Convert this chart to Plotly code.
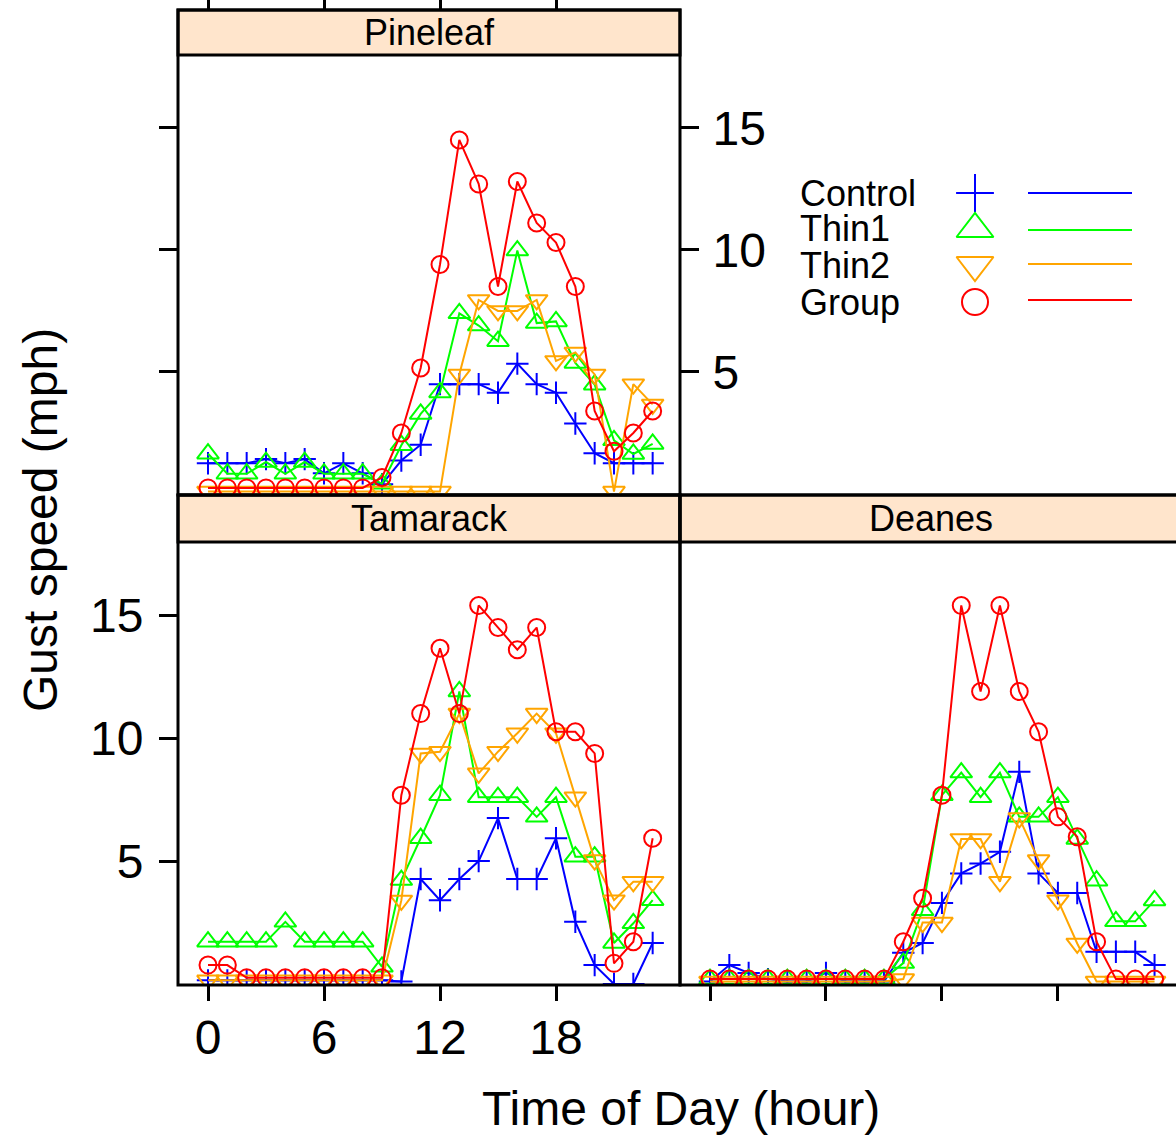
import plotly.graph_objects as go

# ---------------- data ----------------
hours = list(range(24))
series = ["Control", "Thin1", "Thin2", "Group"]
sites = ["Pineleaf", "Tamarack", "Deanes"]

pineleaf_control = [1.26, 1.26, 1.26, 1.43, 1.26, 1.43, 0.85, 1.26, 0.85, 0.40, 1.37, 2.02, 4.5, 4.5, 4.5, 4.15, 5.34, 4.5, 4.15, 2.89, 1.67, 1.26, 1.26, 1.26]
pineleaf_thin1 = [1.65, 0.83, 0.83, 1.31, 0.83, 1.31, 0.83, 0.83, 0.83, 0.42, 2.0, 3.28, 4.16, 7.4, 6.9, 6.26, 9.97, 7.0, 7.07, 5.37, 4.48, 2.2, 1.64, 2.05]
pineleaf_thin2 = [0.1, 0.1, 0.1, 0.1, 0.1, 0.1, 0.1, 0.1, 0.1, 0.1, 0.1, 0.1, 0.1, 4.9, 7.95, 7.5, 7.5, 7.95, 5.45, 5.8, 4.9, 0.1, 4.5, 3.67]
pineleaf_group = [0.25, 0.25, 0.25, 0.25, 0.25, 0.25, 0.25, 0.25, 0.25, 0.68, 2.5, 5.16, 9.4, 14.5, 12.7, 8.5, 12.8, 11.1, 10.3, 8.5, 3.4, 1.75, 2.5, 3.4]

tamarack_control = [0.15, 0.15, 0.15, 0.15, 0.15, 0.15, 0.15, 0.15, 0.15, 0.15, 0.1, 4.27, 3.41, 4.27, 5.0, 6.75, 4.27, 4.27, 5.93, 2.53, 0.77, 0.0, 0.0, 1.67]
tamarack_thin1 = [1.72, 1.72, 1.72, 1.72, 2.53, 1.72, 1.72, 1.72, 1.72, 0.7, 4.23, 5.93, 7.68, 11.9, 7.6, 7.6, 7.6, 6.8, 7.6, 5.18, 5.18, 1.67, 2.47, 3.41]
tamarack_thin2 = [0.15, 0.15, 0.15, 0.15, 0.15, 0.15, 0.15, 0.15, 0.15, 0.15, 3.4, 9.38, 9.45, 11.0, 8.57, 9.45, 10.2, 11.0, 10.2, 7.6, 5.04, 3.41, 4.16, 4.16]
tamarack_group = [0.77, 0.77, 0.25, 0.25, 0.25, 0.25, 0.25, 0.25, 0.25, 0.25, 7.68, 11.0, 13.66, 11.0, 15.4, 14.5, 13.6, 14.5, 10.26, 10.26, 9.38, 0.84, 1.72, 5.93]

deanes_control = [0.1, 0.77, 0.45, 0.2, 0.1, 0.1, 0.45, 0.1, 0.1, 0.1, 1.27, 1.67, 3.3, 4.5, 4.9, 5.38, 8.63, 4.5, 3.7, 3.7, 1.31, 1.31, 1.31, 0.77]
deanes_thin1 = [0.2, 0.2, 0.2, 0.2, 0.2, 0.2, 0.2, 0.2, 0.2, 0.2, 0.85, 3.0, 7.68, 8.6, 7.6, 8.6, 6.8, 6.8, 7.6, 5.9, 4.2, 2.55, 2.55, 3.4]
deanes_thin2 = [0.1, 0.1, 0.1, 0.1, 0.1, 0.1, 0.1, 0.1, 0.1, 0.1, 0.2, 2.5, 2.5, 5.9, 5.9, 4.16, 6.75, 5.04, 3.41, 1.65, 0.1, 0.1, 0.1, 0.1]
deanes_group = [0.2, 0.2, 0.2, 0.2, 0.2, 0.2, 0.2, 0.2, 0.2, 0.2, 1.72, 3.49, 7.68, 15.4, 11.9, 15.4, 11.9, 10.26, 6.8, 5.99, 1.72, 0.2, 0.2, 0.2]

x_tickvals = [0, 6, 12, 18]
y_tickvals = [5, 10, 15]

site_data = {
    "Pineleaf": [pineleaf_control, pineleaf_thin1, pineleaf_thin2, pineleaf_group],
    "Tamarack": [tamarack_control, tamarack_thin1, tamarack_thin2, tamarack_group],
    "Deanes": [deanes_control, deanes_thin1, deanes_thin2, deanes_group],
}

# ---------------- style ----------------
W, H = 1176, 1136
FONT = "Liberation Sans, Arial, sans-serif"
colors = ["#0000FF", "#00FF00", "#FFA500", "#FF0000"]
symbols = ["cross-thin-open", "triangle-up-open", "triangle-down-open", "circle-open"]
msizes = [16, 19, 19, 17]
lsizes = [27, 32, 32, 26]
STRIP = "#FFE5CC"


def fx(p):
    return p / W


def fy(p):
    return 1 - p / H


XR_LEFT = [-1.552, 24.414]
XR_RIGHT = [-1.552, 24.11]
YR = [-0.04, 17.98]

# pixel boxes: (x0, x1, strip_top, plot_top, plot_bottom)
boxes = {
    "Pineleaf": (178, 680, 10, 55, 495),
    "Tamarack": (178, 680, 495, 542, 985),
    "Deanes": (680, 1182, 495, 542, 985),
}
axis_of = {"Tamarack": ("x", "y"), "Deanes": ("x2", "y2"), "Pineleaf": ("x3", "y3")}

fig = go.Figure()

for site in sites:
    xa, ya = axis_of[site]
    for i, name in enumerate(series):
        fig.add_trace(go.Scatter(
            x=hours, y=site_data[site][i], xaxis=xa, yaxis=ya,
            mode="lines+markers", name=name, showlegend=False,
            line=dict(color=colors[i], width=2),
            marker=dict(symbol=symbols[i], size=msizes[i], color=colors[i],
                        line=dict(color=colors[i], width=2)),
        ))

# dummy trace for the right-hand Pineleaf axis
fig.add_trace(go.Scatter(x=[0], y=[-10], xaxis="x3", yaxis="y4", mode="markers",
                         marker=dict(opacity=0), showlegend=False, hoverinfo="skip"))

# legend keys on a pixel-space overlay axis
leg_rows_y = [193, 229, 265, 302]
leg_line_y = [193, 230, 264, 300]
for i, name in enumerate(series):
    fig.add_trace(go.Scatter(x=[975], y=[leg_rows_y[i]], xaxis="x5", yaxis="y5", mode="markers",
                             marker=dict(symbol=symbols[i], size=lsizes[i], color=colors[i],
                                         line=dict(color=colors[i], width=2)),
                             showlegend=False, hoverinfo="skip"))
    fig.add_trace(go.Scatter(x=[1028, 1132], y=[leg_line_y[i]] * 2, xaxis="x5", yaxis="y5", mode="lines",
                             line=dict(color=colors[i], width=2), showlegend=False, hoverinfo="skip"))

tick_font = dict(family=FONT, size=48, color="black")
common_x = dict(showgrid=False, zeroline=False, showline=False, ticks="outside", ticklen=15,
                tickwidth=3, tickcolor="black", tickvals=x_tickvals, tickfont=tick_font,
                automargin=False)
common_y = dict(showgrid=False, zeroline=False, showline=False, ticks="outside", ticklen=18,
                tickwidth=3, tickcolor="black", tickvals=y_tickvals, tickfont=tick_font, range=YR,
                automargin=False)

T = boxes["Tamarack"]
D = boxes["Deanes"]
P = boxes["Pineleaf"]

fig.update_layout(
    width=W, height=H, margin=dict(l=0, r=0, t=0, b=0, pad=0, autoexpand=False),
    paper_bgcolor="white", plot_bgcolor="rgba(0,0,0,0)", showlegend=False,
    font=dict(family=FONT, color="black"),
    xaxis=dict(common_x, domain=[fx(T[0]), fx(T[1])], range=XR_LEFT, anchor="y",
               showticklabels=True),
    yaxis=dict(common_y, domain=[fy(T[4]), fy(T[3])], anchor="x", showticklabels=True,
               ticklabelstandoff=6),
    xaxis2=dict(common_x, domain=[fx(D[0]), 1.0], range=XR_RIGHT, anchor="y2", showticklabels=False),
    yaxis2=dict(common_y, domain=[fy(D[4]), fy(D[3])], anchor="x2", ticks="", showticklabels=False),
    xaxis3=dict(common_x, domain=[fx(P[0]), fx(P[1])], range=XR_LEFT, anchor="free",
                position=fy(P[2]), side="top", showticklabels=False, ticklen=10),
    yaxis3=dict(common_y, domain=[fy(P[4]), fy(P[3])], anchor="x3", showticklabels=False),
    yaxis4=dict(common_y, overlaying="y3", side="right", anchor="x3", showticklabels=True,
                ticklabelstandoff=4),
    xaxis5=dict(domain=[0, 1], range=[0, W], visible=False, fixedrange=True, automargin=False),
    yaxis5=dict(domain=[0, 1], range=[H, 0], visible=False, fixedrange=True, anchor="x5",
                automargin=False),
)

try:
    fig.update_xaxes(ticklabelstandoff=-5, selector=dict(anchor="y"))
except Exception:
    pass

shapes = []
for site in sites:
    x0, x1, st, pt, pb = boxes[site]
    shapes.append(dict(type="rect", xref="paper", yref="paper", x0=fx(x0), x1=fx(x1),
                       y0=fy(pt), y1=fy(st), fillcolor=STRIP, line=dict(color="black", width=3),
                       layer="below"))
    shapes.append(dict(type="rect", xref="paper", yref="paper", x0=fx(x0), x1=fx(x1),
                       y0=fy(pb), y1=fy(st), fillcolor="rgba(0,0,0,0)",
                       line=dict(color="black", width=3), layer="above"))
fig.update_layout(shapes=shapes)

ann = []
for site in sites:
    x0, x1, st, pt, pb = boxes[site]
    ann.append(dict(text=site, xref="paper", yref="paper", x=fx((x0 + x1) / 2), y=fy((st + pt) / 2),
                    showarrow=False, xanchor="center", yanchor="middle",
                    font=dict(family=FONT, size=36, color="black")))
for i, name in enumerate(series):
    ann.append(dict(text=name, xref="paper", yref="paper", x=fx(798), y=fy(leg_rows_y[i]),
                    showarrow=False, xanchor="left", yanchor="middle",
                    font=dict(family=FONT, size=36, color="black")))
ann.append(dict(text="Time of Day (hour)", xref="paper", yref="paper", x=fx(681), y=fy(1108),
                showarrow=False, xanchor="center", yanchor="middle",
                font=dict(family=FONT, size=48, color="black")))
ann.append(dict(text="Gust speed (mph)", xref="paper", yref="paper", x=fx(40), y=fy(520),
                showarrow=False, xanchor="center", yanchor="middle", textangle=-90,
                font=dict(family=FONT, size=48, color="black")))
fig.update_layout(annotations=ann)

fig.write_html(
    "out.html",
    config={"displayModeBar": False, "staticPlot": True},
    post_script=(
        "document.body.style.margin='0';document.body.style.padding='0';"
        "document.body.style.overflow='hidden';"
        "var gd=document.getElementById('{plot_id}');"
        "gd.style.position='fixed';gd.style.top='0px';gd.style.left='0px';"
    ),
)
